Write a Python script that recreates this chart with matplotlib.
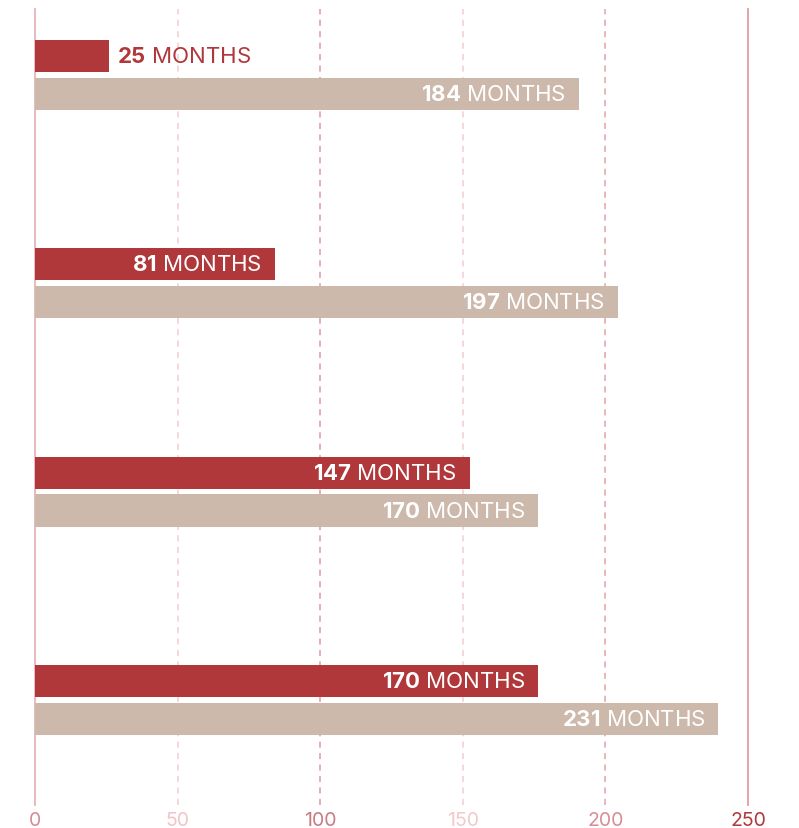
import numpy as np
import matplotlib.pyplot as plt

# months, two series per group (top = red, bottom = beige)
groups = ["A", "B", "C", "D"]
red_vals = [25, 81, 147, 170]
tan_vals = [184, 197, 170, 231]
tick_labels = ["0", "50", "100", "150", "200", "250"]

RED = "#b0383b"
TAN = "#cdb9ab"
tick_cols = ["#d88a93", "#f2c4c9", "#c97b84", "#f2c9cd", "#d88d95", "#b0383b"]
grid_cols = ["#e8b4b8", "#f2cdd0", "#df98a0", "#f2cdd0", "#e3a3aa", "#e39aa2"]

plt.rcParams["font.family"] = ["Inter", "DejaVu Sans"]
plt.rcParams["mathtext.fontset"] = "custom"
plt.rcParams["mathtext.rm"] = "Inter"
plt.rcParams["mathtext.bf"] = "Inter:bold"

fig = plt.figure(figsize=(7.99, 8.29), dpi=100)
ax = fig.add_axes([35/799, 23/829, 713/799, 796/829])

xmax = 241
ax.set_xlim(0, xmax)
ax.set_ylim(3.505, -0.317)

y = np.arange(len(groups))
off = 0.091
h = 0.154
fs = 16

tpos = np.linspace(0, xmax, len(tick_labels))
for i, (p, c) in enumerate(zip(tpos, grid_cols)):
    if i == 0 or i == len(tpos) - 1:
        ax.axvline(p, color=c, lw=1.3, zorder=0, clip_on=False)
    else:
        ax.axvline(p, color=c, lw=1.1, ls=(0, (4, 3.5)), zorder=0)

ax.barh(y - off, red_vals, height=h, color=RED, zorder=2)
ax.barh(y + off, tan_vals, height=h, color=TAN, zorder=2)


def label(val, yy):
    s = r"$\mathbf{%d}$ MONTHS" % val
    if val < 60:
        ax.annotate(s, xy=(val, yy), xytext=(8, 0), textcoords="offset pixels",
                    ha="left", va="center", fontsize=fs, color=RED, zorder=3)
    else:
        ax.annotate(s, xy=(val, yy), xytext=(-13, 0), textcoords="offset pixels",
                    ha="right", va="center", fontsize=fs, color="white", zorder=3)


for i in range(len(groups)):
    label(red_vals[i], y[i] - off)
    label(tan_vals[i], y[i] + off)

ax.set_xticks(tpos)
ax.set_xticklabels(tick_labels, fontsize=14)
for t, c in zip(ax.get_xticklabels(), tick_cols):
    t.set_color(c)
ax.tick_params(axis="x", length=0, pad=4)
ax.set_yticks([])
for s in ax.spines.values():
    s.set_visible(False)

fig.savefig("out.png", dpi=100)
